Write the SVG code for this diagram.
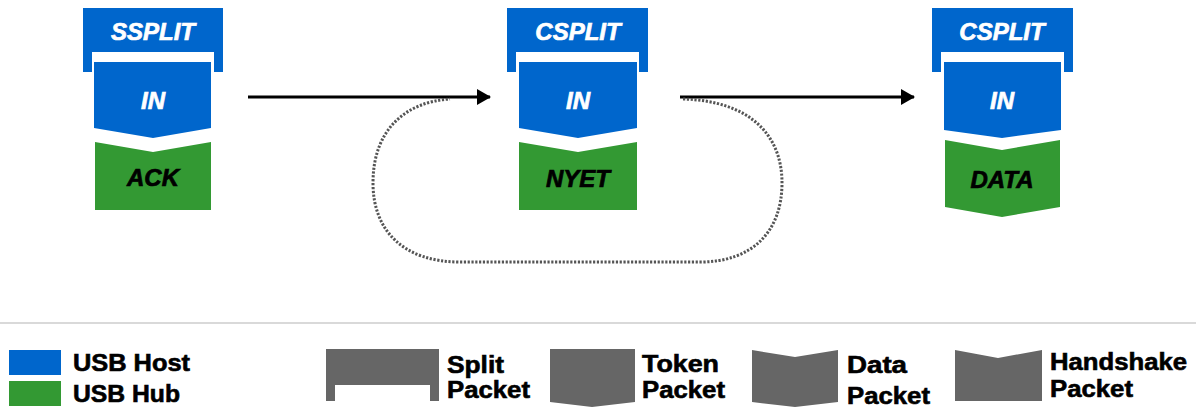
<svg xmlns="http://www.w3.org/2000/svg" width="1196" height="409" viewBox="0 0 1196 409">
<defs>
<style>
.host{fill:#0066CC}
.hub{fill:#339933}
.pkt{fill:#666666}
.nt{font-family:"Liberation Sans",Arial,sans-serif;font-weight:bold;font-style:italic;font-size:24px;text-anchor:middle;stroke-width:0.7}
.w{fill:#ffffff;stroke:#ffffff}
.k{fill:#000000;stroke:#000000}
.lg{font-family:"Liberation Sans",Arial,sans-serif;font-weight:bold;font-size:23px;fill:#000;stroke:#000;stroke-width:0.6}
.arr{stroke:#000;stroke-width:3;fill:none}
.dot{stroke:#555;stroke-width:3;fill:none;stroke-dasharray:2.2 1.6}
</style>
<marker id="ah" markerWidth="14" markerHeight="16" refX="13" refY="8" orient="auto" markerUnits="userSpaceOnUse">
<path d="M0 0 L14 8 L0 16 Z" fill="#000"/>
</marker>
</defs>
<rect width="1196" height="409" fill="#fff"/>

<g id="connectors">
<line class="arr" x1="248" y1="97" x2="490" y2="97" marker-end="url(#ah)"/>
<line class="arr" x1="680" y1="97" x2="914" y2="97" marker-end="url(#ah)"/>
<path class="dot" d="M 683 99 C 750 101 782 135 782 183 C 782 232 752 262 700 262 L 460 262 C 405 262 373 232 373 183 C 373 130 405 102 450 99"/>
</g>

<g id="node1">
<path class="host" d="M83 8 H223 V72 H214 V52 H92 V72 H83 Z"/>
<path class="host" d="M94 62 H211 V128 L153 138 L94 128 Z"/>
<path class="hub" d="M95 142 L153 152 L211 142 V210 H95 Z"/>
<text class="nt w" x="153" y="40">SSPLIT</text>
<text class="nt w" x="153" y="109">IN</text>
<text class="nt k" x="153" y="186">ACK</text>
</g>

<g id="node2">
<path class="host" d="M507 8 H648 V72 H639 V52 H516 V72 H507 Z"/>
<path class="host" d="M519 62 H637 V128 L578 138 L519 128 Z"/>
<path class="hub" d="M519 142 L578 152 L637 142 V210 H519 Z"/>
<text class="nt w" x="578" y="40">CSPLIT</text>
<text class="nt w" x="578" y="109">IN</text>
<text class="nt k" x="578" y="187">NYET</text>
</g>

<g id="node3">
<path class="host" d="M932 8 H1073 V72 H1064 V52 H941 V72 H932 Z"/>
<path class="host" d="M944 62 H1061 V130 L1002 138 L944 130 Z"/>
<path class="hub" d="M945 140 L1002 150 L1060 140 V207 L1002 217 L945 207 Z"/>
<text class="nt w" x="1002" y="40">CSPLIT</text>
<text class="nt w" x="1002" y="109">IN</text>
<text class="nt k" x="1002" y="188">DATA</text>
</g>

<line x1="0" y1="323" x2="1196" y2="323" stroke="#cccccc" stroke-width="1.5"/>

<g id="legend">
<rect class="host" x="9" y="350" width="52" height="25"/>
<rect class="hub" x="9" y="381" width="52" height="25"/>
<text class="lg" x="73" y="371" textLength="117" lengthAdjust="spacingAndGlyphs">USB Host</text>
<text class="lg" x="73" y="402" textLength="107" lengthAdjust="spacingAndGlyphs">USB Hub</text>

<path class="pkt" d="M326 349 H439 V401 H430 V385 H335 V401 H326 Z"/>
<text class="lg" x="447" y="373" textLength="57" lengthAdjust="spacingAndGlyphs">Split</text>
<text class="lg" x="447" y="398" textLength="83" lengthAdjust="spacingAndGlyphs">Packet</text>

<path class="pkt" d="M550 349 H635 V402 L592 407 L550 402 Z"/>
<text class="lg" x="642" y="372" textLength="77" lengthAdjust="spacingAndGlyphs">Token</text>
<text class="lg" x="642" y="398" textLength="83" lengthAdjust="spacingAndGlyphs">Packet</text>

<path class="pkt" d="M752 350 L795 357 L838 350 V402 L795 407 L752 402 Z"/>
<text class="lg" x="847" y="373" textLength="60" lengthAdjust="spacingAndGlyphs">Data</text>
<text class="lg" x="847" y="404" textLength="83" lengthAdjust="spacingAndGlyphs">Packet</text>

<path class="pkt" d="M955 350 L998 358 L1042 350 V401 H955 Z"/>
<text class="lg" x="1050" y="370" textLength="137" lengthAdjust="spacingAndGlyphs">Handshake</text>
<text class="lg" x="1050" y="397" textLength="83" lengthAdjust="spacingAndGlyphs">Packet</text>
</g>
</svg>
